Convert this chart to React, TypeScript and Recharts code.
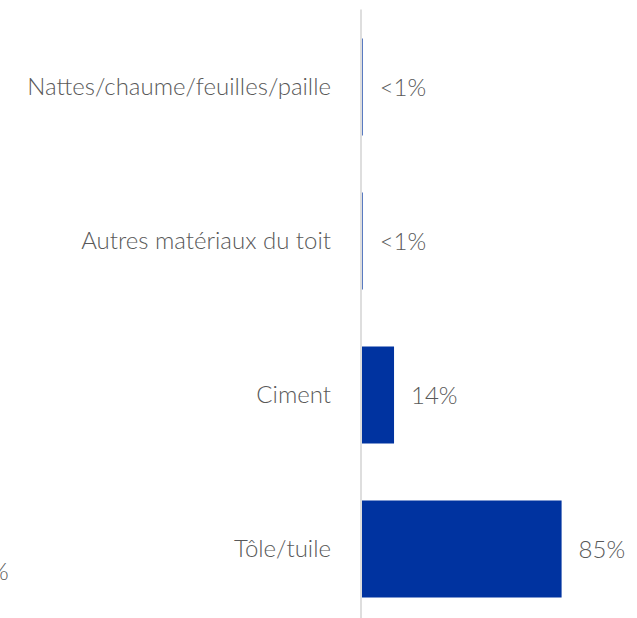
import { Bar, BarChart, LabelList, XAxis, YAxis } from "recharts";

const categories = ["Nattes/chaume/feuilles/paille", "Autres matériaux du toit", "Ciment", "Tôle/tuile"];
const shares = [0.7, 0.7, 14, 85];
const shareLabels = ["<1%", "<1%", "14%", "85%"];

const data = categories.map((name, i) => ({ name, value: shares[i], label: shareLabels[i] }));

const FONT = "Lato, 'Open Sans', sans-serif";

export default function App() {
    return (
        <div style={{ position: "absolute", left: 0, top: 0, width: 637, height: 618, overflow: "hidden", background: "#fff" }}>
            <BarChart
                width={637}
                height={640}
                data={data}
                layout="vertical"
                barSize={97}
                margin={{ top: 9.5, right: 40, left: 0, bottom: 14.5 }}
            >
                <XAxis type="number" domain={[0, 100]} hide />
                <YAxis
                    type="category"
                    dataKey="name"
                    width={361}
                    tickLine={false}
                    tickSize={0}
                    tickMargin={30}
                    axisLine={{ stroke: "#dedede", strokeWidth: 2 }}
                    tick={{ fontSize: 24, fill: "#595959", fontFamily: FONT, fontWeight: 300 }}
                />
                <Bar dataKey="value" fill="#0033a0" isAnimationActive={false}>
                    <LabelList
                        dataKey="label"
                        position="right"
                        offset={17}
                        style={{ fontSize: 24, fill: "#595959", fontFamily: FONT, fontWeight: 300 }}
                    />
                </Bar>
            </BarChart>
            <span
                style={{
                    position: "absolute",
                    left: -24,
                    top: 556,
                    fontSize: 24,
                    color: "#595959",
                    fontFamily: FONT,
                    fontWeight: 300,
                }}
            >
                1%
            </span>
        </div>
    );
}
